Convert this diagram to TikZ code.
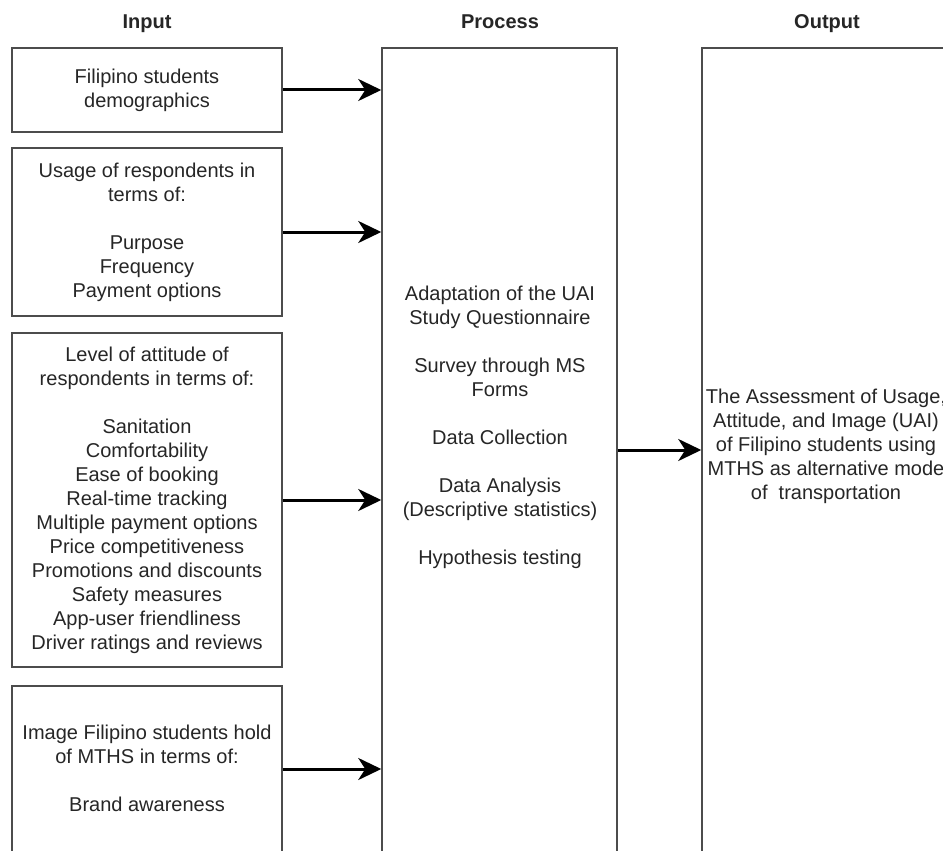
\documentclass[tikz,border=0pt]{standalone}
\usepackage{fontspec}
\setmainfont{Liberation Sans}
\usetikzlibrary{arrows.meta}
\begin{document}
\begin{tikzpicture}[x=1pt,y=-1pt,
  box/.style={draw=black!70, line width=1.5pt, rectangle, inner sep=0pt},
  txt/.style={align=center, text=black!85, font=\fontsize{20}{24}\selectfont, inner sep=0pt},
  ttl/.style={font=\fontsize{20}{24}\selectfont\bfseries, text=black!85, inner sep=0pt, anchor=base},
  arr/.style={line width=3pt, -{Stealth[length=23pt,width=22pt,inset=7pt]}}]
\useasboundingbox (0,0) rectangle (943,851);
\clip (0,0) rectangle (943,851);
\fill[white] (0,0) rectangle (943,851);

% titles
\node[ttl] (tin) at (147,29) {Input};
\node[ttl] (tproc) at (500,29) {Process};
\node[ttl] (tout) at (827,29) {Output};

% input boxes
\node[box, minimum width=270pt, minimum height=84pt] (b1) at (147,90) {};
\node[box, minimum width=270pt, minimum height=168pt] (b2) at (147,232) {};
\node[box, minimum width=270pt, minimum height=334pt] (b3) at (147,500) {};
\node[box, minimum width=270pt, minimum height=166pt] (b4) at (147,769) {};

% process and output boxes
\node[box, minimum width=235pt, minimum height=852pt] (proc) at (499.5,474) {};
\node[box, minimum width=258pt, minimum height=852pt] (out) at (831,474) {};

% texts
\node[txt] (t1) at (147,90) {Filipino students\\demographics};
\node[txt] (t2) at (147,232) {Usage of respondents in\\terms of:\\[24pt]Purpose\\Frequency\\Payment options};
\node[txt] (t3) at (147,500) {Level of attitude of\\respondents in terms of:\\[24pt]Sanitation\\Comfortability\\Ease of booking\\Real-time tracking\\Multiple payment options\\Price competitiveness\\Promotions and discounts\\Safety measures\\App-user friendliness\\Driver ratings and reviews};
\node[txt] (t4) at (147,768) {Image Filipino students hold\\of MTHS in terms of:\\[24pt]Brand awareness};
\node[txt] (tp) at (500,427) {Adaptation of the UAI\\Study Questionnaire\\[24pt]Survey through MS\\Forms\\[24pt]Data Collection\\[24pt]Data Analysis\\(Descriptive statistics)\\[24pt]Hypothesis testing};
\node[txt] (to) at (826,446) {The Assessment of Usage,\\Attitude, and Image (UAI)\\of Filipino students using\\MTHS as alternative mode\\of\ \ transportation};

% arrows
\draw[arr] (b1.east) -- (b1.east -| proc.west);
\draw[arr] (b2.east) -- (b2.east -| proc.west);
\draw[arr] (b3.east) -- (b3.east -| proc.west);
\draw[arr] (b4.east) -- (b4.east -| proc.west);
\coordinate (oa) at (0,450);
\draw[arr] (oa -| proc.east) -- (oa -| out.west);
\end{tikzpicture}
\end{document}
